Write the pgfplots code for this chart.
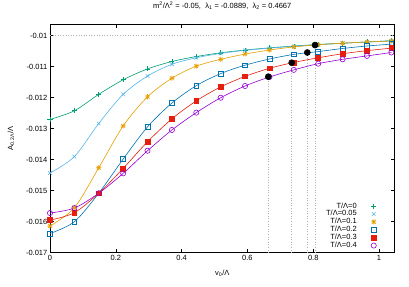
\documentclass[border=0pt]{standalone}
\usepackage{fontspec}
\setmainfont{Liberation Sans}
\usepackage{pgfplots}
\pgfplotsset{compat=1.18}
\definecolor{cG}{HTML}{009E73}
\definecolor{cC}{HTML}{56B4E9}
\definecolor{cO}{HTML}{E69F00}
\definecolor{cB}{HTML}{0072B2}
\definecolor{cR}{HTML}{E51E10}
\definecolor{cP}{HTML}{9400D3}
\pgfdeclareplotmark{gpstar}{%
  \pgfpathmoveto{\pgfqpoint{-\pgfplotmarksize}{0pt}}\pgfpathlineto{\pgfqpoint{\pgfplotmarksize}{0pt}}%
  \pgfpathmoveto{\pgfqpoint{0pt}{-\pgfplotmarksize}}\pgfpathlineto{\pgfqpoint{0pt}{\pgfplotmarksize}}%
  \pgfpathmoveto{\pgfqpoint{-0.75\pgfplotmarksize}{-0.75\pgfplotmarksize}}\pgfpathlineto{\pgfqpoint{0.75\pgfplotmarksize}{0.75\pgfplotmarksize}}%
  \pgfpathmoveto{\pgfqpoint{-0.75\pgfplotmarksize}{0.75\pgfplotmarksize}}\pgfpathlineto{\pgfqpoint{0.75\pgfplotmarksize}{-0.75\pgfplotmarksize}}%
  \pgfusepathqstroke}
\pgfplotstableread{
x      g        c        o        b        r        p
0      -0.01270 -0.01443 -0.01614 -0.01638 -0.01595 -0.01572
0.0741 -0.01242 -0.01390 -0.01555 -0.01600 -0.01571 -0.01556
0.1482 -0.01189 -0.01283 -0.01426 -0.01508 -0.01508 -0.01508
0.2223 -0.01142 -0.01189 -0.01291 -0.01398 -0.01428 -0.01444
0.2964 -0.01107 -0.01130 -0.01197 -0.01294 -0.01342 -0.01371
0.3705 -0.01083 -0.01092 -0.01137 -0.01217 -0.01268 -0.01304
0.4446 -0.01067 -0.01071 -0.01098 -0.01161 -0.01210 -0.01248
0.5187 -0.01055 -0.01057 -0.01076 -0.01122 -0.01165 -0.01200
0.5928 -0.01046 -0.01047 -0.01059 -0.01095 -0.01131 -0.01162
0.6669 -0.01039 -0.01040 -0.01046 -0.01075 -0.01105 -0.01133
0.7410 -0.01033 -0.01034 -0.01036 -0.01060 -0.01086 -0.01110
0.8151 -0.01028 -0.01029 -0.01029 -0.01051 -0.01071 -0.01090
0.8892 -0.01024 -0.01024 -0.01024 -0.01041 -0.01058 -0.01076
0.9633 -0.01020 -0.01020 -0.01020 -0.01033 -0.01048 -0.01065
1.0374 -0.01016 -0.01016 -0.01017 -0.01027 -0.01040 -0.01054
}\datatab
\begin{document}
\fontsize{7.5bp}{9bp}\selectfont
\begin{tikzpicture}
\begin{axis}[
  scale only axis, width=344.5bp, height=228.7bp,
  at={(0,0)}, anchor=south west,
  xmin=0, xmax=1.047, ymin=-0.017, ymax=-0.00962,
  scaled ticks=false,
  xtick={0,0.2,0.4,0.6,0.8,1}, xticklabels={0,0.2,0.4,0.6,0.8,1},
  ytick={-0.017,-0.016,-0.015,-0.014,-0.013,-0.012,-0.011,-0.01},
  yticklabels={-0.017,-0.016,-0.015,-0.014,-0.013,-0.012,-0.011,-0.01},
  tick align=inside, major tick length=4bp,
  axis line style={line width=0.7bp, black},
  tick style={line width=0.6bp, black},
  tick label style={font=\fontsize{7.5bp}{9bp}\selectfont},
  title={m\textsuperscript{2}/Λ\textsuperscript{2} = -0.05,\ \ λ\textsubscript{1} = -0.0889,\ \ λ\textsubscript{2} = 0.4667},
  title style={font=\fontsize{7.5bp}{9bp}\selectfont, at={(0.5,1)}, anchor=base, yshift=9.3bp},
  xlabel={v\textsubscript{0}/Λ},
  ylabel={A\textsubscript{0.2Λ}/Λ},
  label style={font=\fontsize{7.5bp}{9bp}\selectfont},
  xlabel style={at={(axis description cs:0.5,0)}, anchor=center, yshift=-20.5bp},
  ylabel style={at={(axis description cs:0,0.5)}, anchor=center, yshift=39bp, xshift=0bp},
  legend plot pos=right, legend cell align=right,
  legend style={draw=none, fill=none, at={(0.949,0.015)}, anchor=south east, inner sep=0pt,
     font=\fontsize{7.5bp}{9bp}\selectfont,
     nodes={inner sep=0pt, text height=5.5bp, text depth=1.5bp}, row sep=0.9bp},
  legend image code/.code={\path[draw=none,fill=none] (0bp,-2bp) rectangle (20bp,2bp); \draw[#1] plot coordinates {(17bp,0bp)};},
  every axis plot/.append style={line width=0.6bp},
  mark options={solid, line width=0.6bp},
]
\addlegendimage{only marks, cG, mark=+, mark size=2.5bp}
\addlegendimage{only marks, cC, mark=x, mark size=2.5bp}
\addlegendimage{only marks, cO, mark=gpstar, mark size=2.6bp}
\addlegendimage{only marks, cB, mark=square, mark size=2.4bp}
\addlegendimage{only marks, cR, mark=square*, mark size=2.4bp}
\addlegendimage{only marks, cP, mark=o, mark size=2.6bp}
\legend{T/Λ=0,T/Λ=0.05,T/Λ=0.1,T/Λ=0.2,T/Λ=0.3,T/Λ=0.4}
% dotted guide lines
\addplot[forget plot, gray!60, dotted, line width=0.6bp] coordinates {(0,-0.01) (1.047,-0.01)};
\addplot[forget plot, gray!60, dotted, line width=0.6bp] coordinates {(0.6635,-0.017) (0.6635,-0.01132)};
\addplot[forget plot, gray!60, dotted, line width=0.6bp] coordinates {(0.7347,-0.017) (0.7347,-0.01087)};
\addplot[forget plot, gray!60, dotted, line width=0.6bp] coordinates {(0.7820,-0.017) (0.7820,-0.01054)};
\addplot[forget plot, gray!60, dotted, line width=0.6bp] coordinates {(0.8055,-0.017) (0.8055,-0.01030)};
% series
\addplot[forget plot, smooth, cG, mark=+, mark size=2.5bp] table[x=x,y=g]{\datatab};
\addplot[forget plot, smooth, cC, mark=x, mark size=2.5bp] table[x=x,y=c]{\datatab};
\addplot[forget plot, smooth, cO, mark=gpstar, mark size=2.6bp] table[x=x,y=o]{\datatab};
\addplot[forget plot, smooth, cB, mark=square, mark size=2.4bp] table[x=x,y=b]{\datatab};
\addplot[forget plot, smooth, cR, mark=square*, mark size=2.4bp] table[x=x,y=r]{\datatab};
\addplot[forget plot, smooth, cP, mark=o, mark size=2.6bp] table[x=x,y=p]{\datatab};
% special points
\addplot[forget plot, only marks, black, mark=*, mark size=3bp] coordinates {(0.6635,-0.01132) (0.7347,-0.01087) (0.7820,-0.01054) (0.8055,-0.01030)};
\end{axis}
\pgfresetboundingbox
\useasboundingbox (-50bp,-34.3bp) rectangle (359bp,252.7bp);
\end{tikzpicture}
\end{document}
